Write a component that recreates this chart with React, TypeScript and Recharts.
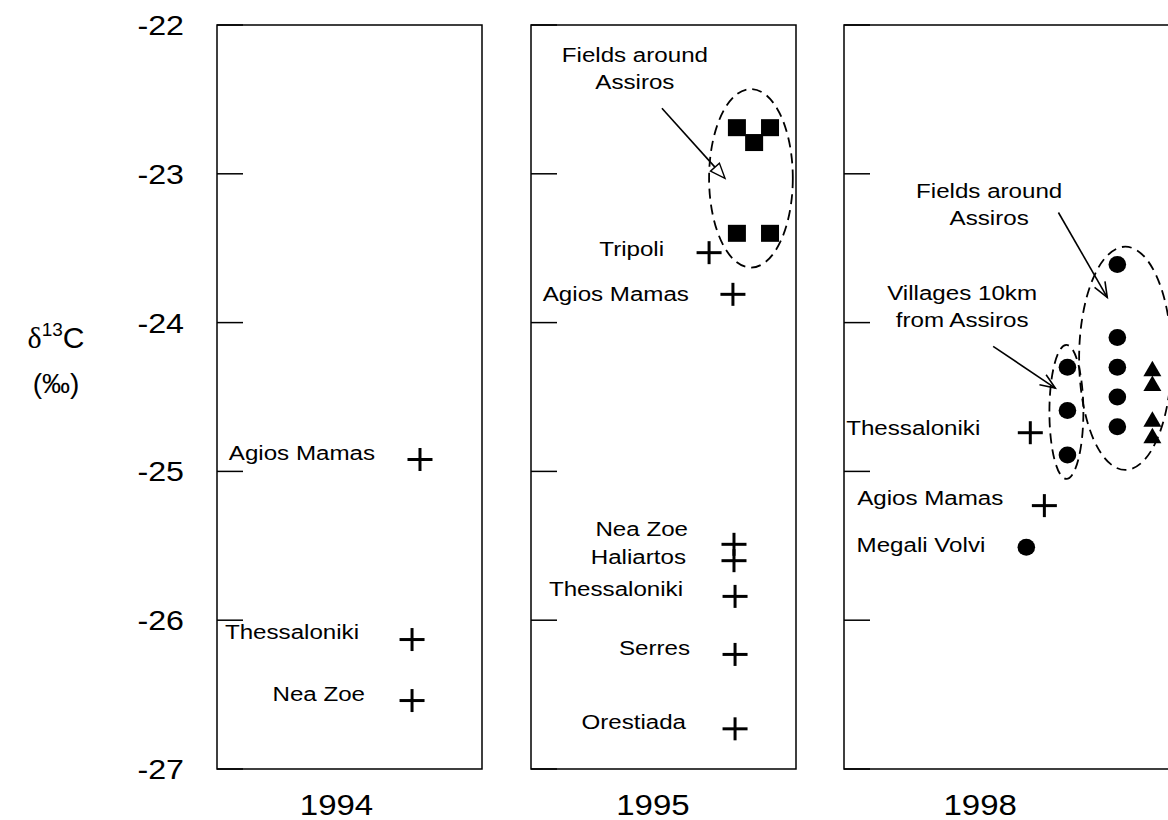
import React from "react";
import { ScatterChart, Scatter, XAxis, YAxis, ReferenceArea, ReferenceLine } from "recharts";

const FONT = '"Liberation Sans", Arial, Helvetica, sans-serif';
const SX = 1.15; // horizontal stretch of the text in the original

// ---------- data ----------
const yTicks = [-27, -26, -25, -24, -23, -22];
const years = ["1994", "1995", "1998"];
const yearLabelAt = [45.1, 46.0, 51.3];

// 1994
const p1CrossNames = ["Agios Mamas", "Thessaloniki", "Nea Zoe"];
const p1CrossX = [76.6, 73.6, 73.6];
const p1CrossY = [-24.92, -26.13, -26.54];

// 1995
const p2CrossNames = ["Tripoli", "Agios Mamas", "Nea Zoe", "Haliartos", "Thessaloniki", "Serres", "Orestiada"];
const p2CrossX = [67.2, 76.2, 76.6, 76.6, 77.0, 77.0, 77.0];
const p2CrossY = [-23.53, -23.81, -25.49, -25.6, -25.84, -26.23, -26.73];
const p2SquareX = [77.7, 84.2, 90.2, 77.7, 90.2];
const p2SquareY = [-22.69, -22.79, -22.69, -23.4, -23.4];

// 1998
const p3CrossNames = ["Thessaloniki", "Agios Mamas"];
const p3CrossX = [70.2, 75.5];
const p3CrossY = [-24.74, -25.23];
const p3CircleNames = ["Megali Volvi", "", "", "", "", "", "", "", ""];
const p3CircleX = [68.7, 84.2, 84.2, 84.2, 103.0, 103.0, 103.0, 103.0, 103.0];
const p3CircleY = [-25.51, -24.3, -24.59, -24.89, -23.61, -24.1, -24.3, -24.5, -24.7];
const p3TriangleX = [116.2, 116.2, 116.2, 116.2];
const p3TriangleY = [-24.31, -24.41, -24.65, -24.76];

// groups (dashed ellipses), arrows and notes, in data units
const p2Groups = [{ x1: 67.2, x2: 98.8, y1: -23.63, y2: -22.43 }];
const p3Groups = [
  { x1: 77.4, x2: 90.2, y1: -25.05, y2: -24.15 },
  { x1: 88.6, x2: 123.4, y1: -24.99, y2: -23.49 },
];
const p2Arrows = [{ x1: 49.4, y1: -22.56, x2: 73.2, y2: -23.03 }];
const p3Arrows = [
  { x1: 80.8, y1: -23.26, x2: 99.2, y2: -23.83 },
  { x1: 56.2, y1: -24.16, x2: 79.6, y2: -24.44 },
];
const p2Notes = [{ x: 39.2, y: -22.2, lines: ["Fields around", "Assiros"] }];
const p3Notes = [
  { x: 54.7, y: -23.11, lines: ["Fields around", "Assiros"] },
  { x: 44.5, y: -23.8, lines: ["Villages 10km", "from Assiros"] },
];

// label placement relative to its marker
const labelNudge: Record<string, { dx: number; dy: number }> = {
  "1994:Agios Mamas": { dx: -45, dy: -7 },
  "1994:Thessaloniki": { dx: -53, dy: -8 },
  "1994:Nea Zoe": { dx: -47, dy: -7 },
  "1995:Tripoli": { dx: -45, dy: -4 },
  "1995:Agios Mamas": { dx: -44, dy: -1 },
  "1995:Nea Zoe": { dx: -46, dy: -16 },
  "1995:Haliartos": { dx: -48, dy: -4 },
  "1995:Thessaloniki": { dx: -52, dy: -8 },
  "1995:Serres": { dx: -45, dy: -7 },
  "1995:Orestiada": { dx: -49, dy: -7 },
  "1998:Thessaloniki": { dx: -50, dy: -5 },
  "1998:Agios Mamas": { dx: -41, dy: -8 },
  "1998:Megali Volvi": { dx: -41, dy: -3 },
};

const zip = (names: string[] | null, xs: number[], ys: number[]) =>
  xs.map((x, i) => ({ name: names ? names[i] : "", x, y: ys[i] }));

// ---------- drawing helpers ----------
function Label({ x, y, text, anchor }: { x: number; y: number; text: string; anchor: string }) {
  return (
    <text
      transform={`translate(${x},${y}) scale(${SX},1)`}
      x={0}
      y={0}
      dy="0.36em"
      textAnchor={anchor as any}
      fontFamily={FONT}
      fontSize={21}
      fill="#000"
    >
      {text}
    </text>
  );
}

function nameLabel(panel: string, name: string, cx: number, cy: number) {
  if (!name) return null;
  const n = labelNudge[`${panel}:${name}`] || { dx: -46, dy: -6 };
  return <Label x={cx + n.dx} y={cy + n.dy} text={name} anchor="end" />;
}

const crossShape = (panel: string) => (p: any) => {
  const { cx, cy, payload } = p;
  return (
    <g>
      <line x1={cx - 12.5} x2={cx + 12.5} y1={cy} y2={cy} stroke="#000" strokeWidth={3} />
      <line x1={cx} x2={cx} y1={cy - 11.5} y2={cy + 11.5} stroke="#000" strokeWidth={3} />
      {nameLabel(panel, payload && payload.name, cx, cy)}
    </g>
  );
};

const squareShape = (p: any) => {
  const { cx, cy } = p;
  return <rect x={cx - 9} y={cy - 8.5} width={18} height={17} fill="#000" />;
};

const circleShape = (panel: string) => (p: any) => {
  const { cx, cy, payload } = p;
  return (
    <g>
      <ellipse cx={cx} cy={cy} rx={8.8} ry={8.5} fill="#000" />
      {nameLabel(panel, payload && payload.name, cx, cy)}
    </g>
  );
};

const triangleShape = (p: any) => {
  const { cx, cy } = p;
  return <polygon points={`${cx},${cy - 8} ${cx + 9},${cy + 7.5} ${cx - 9},${cy + 7.5}`} fill="#000" />;
};

const noteShape = (p: any) => {
  const { cx, cy, payload } = p;
  return (
    <g>
      {payload.lines.map((t: string, i: number) => (
        <Label key={i} x={cx} y={cy + i * 27} text={t} anchor="middle" />
      ))}
    </g>
  );
};

const ellipseShape = (p: any) => {
  const { x, y, width, height } = p;
  return (
    <ellipse
      cx={x + width / 2}
      cy={y + height / 2}
      rx={Math.abs(width) / 2}
      ry={Math.abs(height) / 2}
      fill="none"
      stroke="#000"
      strokeWidth={1.8}
      strokeDasharray="10 6"
    />
  );
};

const arrowShape = (hollow: boolean) => (p: any) => {
  const { x1, y1, x2, y2 } = p;
  const a = Math.atan2(y2 - y1, x2 - x1);
  const L = 15;
  const W = 6;
  const c = Math.cos(a);
  const s = Math.sin(a);
  const bx = x2 - L * c;
  const by = y2 - L * s;
  const lx = bx + W * s;
  const ly = by - W * c;
  const rx = bx - W * s;
  const ry = by + W * c;
  if (hollow) {
    return (
      <g>
        <line x1={x1} y1={y1} x2={bx} y2={by} stroke="#000" strokeWidth={1.6} />
        <polygon points={`${x2},${y2} ${lx},${ly} ${rx},${ry}`} fill="#fff" stroke="#000" strokeWidth={1.4} />
      </g>
    );
  }
  return (
    <g>
      <line x1={x1} y1={y1} x2={x2} y2={y2} stroke="#000" strokeWidth={1.6} />
      <polyline points={`${lx},${ly} ${x2},${y2} ${rx},${ry}`} fill="none" stroke="#000" strokeWidth={1.6} />
    </g>
  );
};

const yTickLabel = (p: any) => {
  const { x, y, payload } = p;
  return (
    <text
      transform={`translate(${x},${y}) scale(${SX},1)`}
      x={0}
      y={0}
      dy="0.36em"
      textAnchor="end"
      fontFamily={FONT}
      fontSize={28}
      fill="#000"
    >
      {payload.value}
    </text>
  );
};
const emptyTick = () => <g />;

const yearTick = (year: string) => (p: any) => {
  const { x, y } = p;
  return (
    <text
      transform={`translate(${x},${y}) scale(1.1,1)`}
      x={0}
      y={0}
      dy="0.72em"
      textAnchor="middle"
      fontFamily={FONT}
      fontSize={30}
      fill="#000"
    >
      {year}
    </text>
  );
};

type PanelProps = {
  panel: string;
  left: number;
  axisW: number;
  plotW: number;
  xMax: number;
  showLabels: boolean;
  year: string;
  yearAt: number;
  crosses: any[];
  squares?: any[];
  circles?: any[];
  triangles?: any[];
  groups?: any[];
  arrows?: any[];
  notes?: any[];
  hollowArrows?: boolean;
};

function Panel(props: PanelProps) {
  const {
    panel, left, axisW, plotW, xMax, showLabels, year, yearAt,
    crosses, squares = [], circles = [], triangles = [], groups = [], arrows = [], notes = [], hollowArrows = false,
  } = props;
  const width = axisW + plotW + 5;
  return (
    <div style={{ position: "absolute", left, top: 0 }}>
      <ScatterChart width={width} height={820} margin={{ top: 25, right: 5, bottom: 0, left: 0 }}>
        <XAxis
          type="number"
          dataKey="x"
          domain={[0, xMax]}
          allowDataOverflow
          ticks={[yearAt]}
          interval={0}
          tick={yearTick(year)}
          tickLine={false}
          axisLine={false}
          tickSize={0}
          tickMargin={24}
          height={51}
        />
        <YAxis
          type="number"
          dataKey="y"
          domain={[-27, -22]}
          allowDataOverflow
          ticks={yTicks}
          interval={0}
          tick={showLabels ? yTickLabel : emptyTick}
          tickSize={-26}
          tickMargin={59}
          tickLine={{ stroke: "#000", strokeWidth: 1.5 }}
          axisLine={false}
          width={axisW}
        />
        <ReferenceArea
          x1={0}
          x2={xMax}
          y1={-27}
          y2={-22}
          fill="none"
          fillOpacity={0}
          stroke="#000"
          strokeWidth={1.5}
          ifOverflow="visible"
        />
        {groups.map((g, i) => (
          <ReferenceArea key={"g" + i} x1={g.x1} x2={g.x2} y1={g.y1} y2={g.y2} ifOverflow="visible" shape={ellipseShape} />
        ))}
        {arrows.map((a, i) => (
          <ReferenceLine
            key={"a" + i}
            segment={[{ x: a.x1, y: a.y1 }, { x: a.x2, y: a.y2 }]}
            ifOverflow="visible"
            stroke="#000"
            shape={arrowShape(hollowArrows)}
          />
        ))}
        <Scatter data={crosses} shape={crossShape(panel)} isAnimationActive={false} />
        {squares.length > 0 && <Scatter data={squares} shape={squareShape} isAnimationActive={false} />}
        {circles.length > 0 && <Scatter data={circles} shape={circleShape(panel)} isAnimationActive={false} />}
        {triangles.length > 0 && <Scatter data={triangles} shape={triangleShape} isAnimationActive={false} />}
        {notes.length > 0 && <Scatter data={notes} shape={noteShape} isAnimationActive={false} />}
      </ScatterChart>
    </div>
  );
}

export default function App() {
  return (
    <div style={{ position: "relative", width: 1168, height: 820, overflow: "hidden", background: "#fff" }}>
      <style>{"html,body{margin:0;padding:0;background:#fff;overflow:hidden}"}</style>
      <svg style={{ position: "absolute", left: 0, top: 0 }} width={130} height={820}>
        <text x={56} y={348} textAnchor="middle" fontFamily={FONT} fontSize={30} fill="#000">
          <tspan fontFamily='"Liberation Serif", "Times New Roman", serif'>δ</tspan>
          <tspan fontSize={19} dy={-12}>13</tspan>
          <tspan dy={12}>C</tspan>
        </text>
        <text x={56} y={393} textAnchor="middle" fontFamily={FONT} fontSize={28} fill="#000">
          (‰)
        </text>
      </svg>
      <Panel
        panel="1994"
        left={0}
        axisW={217}
        plotW={265}
        xMax={100}
        showLabels
        year={years[0]}
        yearAt={yearLabelAt[0]}
        crosses={zip(p1CrossNames, p1CrossX, p1CrossY)}
      />
      <Panel
        panel="1995"
        left={526}
        axisW={5}
        plotW={265}
        xMax={100}
        showLabels={false}
        year={years[1]}
        yearAt={yearLabelAt[1]}
        crosses={zip(p2CrossNames, p2CrossX, p2CrossY)}
        squares={zip(null, p2SquareX, p2SquareY)}
        groups={p2Groups}
        arrows={p2Arrows}
        notes={p2Notes}
        hollowArrows
      />
      <Panel
        panel="1998"
        left={839}
        axisW={5}
        plotW={345}
        xMax={130}
        showLabels={false}
        year={years[2]}
        yearAt={yearLabelAt[2]}
        crosses={zip(p3CrossNames, p3CrossX, p3CrossY)}
        circles={zip(p3CircleNames, p3CircleX, p3CircleY)}
        triangles={zip(null, p3TriangleX, p3TriangleY)}
        groups={p3Groups}
        arrows={p3Arrows}
        notes={p3Notes}
      />
    </div>
  );
}
